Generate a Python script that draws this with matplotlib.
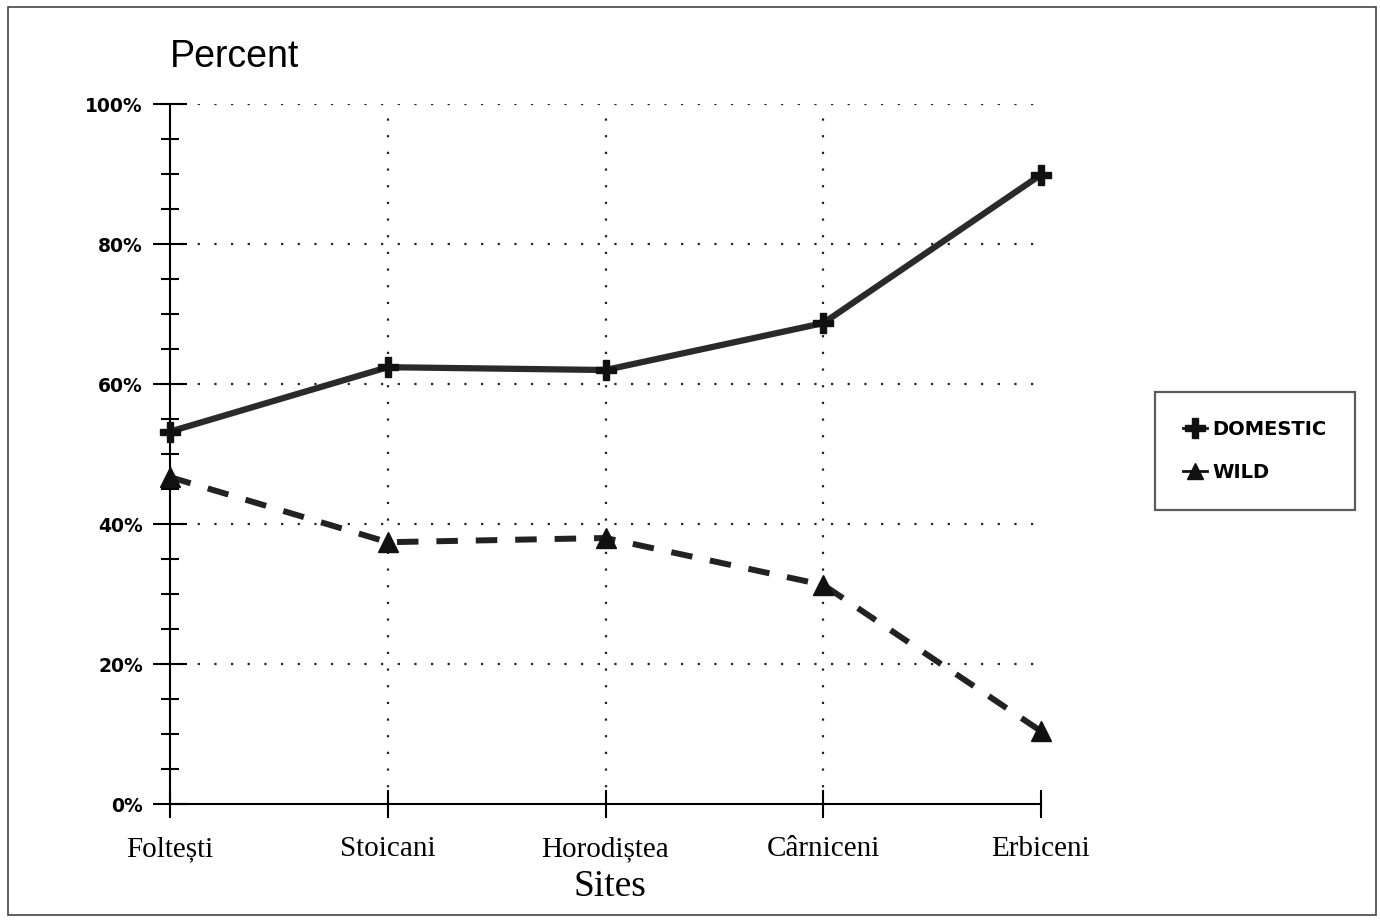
import matplotlib
matplotlib.use("Agg")
import matplotlib.pyplot as plt
from matplotlib.lines import Line2D
from matplotlib.patches import Rectangle

sites = ["Foltești", "Stoicani", "Horodiștea", "Cârniceni", "Erbiceni"]
domestic = [53.2, 62.4, 62.0, 68.7, 89.9]
wild = [46.7, 37.4, 38.0, 31.3, 10.4]
y_major = [0, 20, 40, 60, 80, 100]
y_labels = ["0%", "20%", "40%", "60%", "80%", "100%"]

W, H = 1380, 921
fig = plt.figure(figsize=(W / 100, H / 100), dpi=100)
fig.patch.set_facecolor("white")

# outer frame
fig.add_artist(Rectangle((8 / W, 6 / H), (1376 - 8) / W, (914 - 6) / H,
                         transform=fig.transFigure, fill=False,
                         edgecolor="#444444", linewidth=1.2))

ax = fig.add_axes([170 / W, 1 - 804 / H, (1041 - 170) / W, (804 - 104) / H])
x = list(range(len(sites)))
ax.set_xlim(0, len(sites) - 1)
ax.set_ylim(0, 100)
for s in ["top", "right"]:
    ax.spines[s].set_visible(False)
ax.spines["left"].set_linewidth(1.5)
ax.spines["bottom"].set_linewidth(1.5)

# grid
for yv in y_major[1:]:
    ax.plot([0.05, 3.98], [yv, yv], linestyle=(0, (1, 6.5)), color="#222222",
            linewidth=1.6, zorder=1)
for xv in x[1:-1]:
    ax.plot([xv, xv], [0, 100], linestyle=(0, (1, 6.5)), color="#222222",
            linewidth=1.6, zorder=1)

ax.set_yticks(y_major)
ax.set_yticklabels(y_labels, fontsize=13.5, fontweight="bold", family="DejaVu Sans")
ax.set_yticks(range(0, 101, 5), minor=True)
ax.tick_params(axis="y", which="major", direction="inout", length=25, width=1.5, pad=7)
ax.tick_params(axis="y", which="minor", direction="inout", length=13, width=1.5)
ax.set_xticks(x)
ax.set_xticklabels(sites, fontsize=21, family="Liberation Serif")
ax.tick_params(axis="x", direction="inout", length=20, width=1.5, pad=13)

ax.plot(x, domestic, color="#2a2a2a", linewidth=4.5, marker="P", markersize=15,
        markeredgecolor="#111111", markerfacecolor="#111111", zorder=3, clip_on=False)
ax.plot(x, wild, color="#222222", linewidth=4.3, linestyle=(0, (3.6, 3.0)), marker="^",
        markersize=14, markeredgecolor="#111111", markerfacecolor="#111111",
        zorder=3, clip_on=False)

fig.text(170 / W, 1 - 57 / H, "Percent", fontsize=27, family="Liberation Sans",
         ha="left", va="center")
fig.text(610 / W, 1 - 887 / H, "Sites", fontsize=27, family="Liberation Serif",
         ha="center", va="center")

handles = [
    Line2D([], [], color="#111111", linewidth=2, marker="P", markersize=14,
           markerfacecolor="#111111", markeredgecolor="#111111"),
    Line2D([], [], color="#111111", linewidth=2, marker="^", markersize=12,
           markerfacecolor="#111111", markeredgecolor="#111111"),
]
leg = fig.legend(handles, ["DOMESTIC", "WILD"], loc="upper left",
                 bbox_to_anchor=(1155 / W, 1 - 392 / H), frameon=True, fancybox=False,
                 prop={"family": "DejaVu Sans", "weight": "bold", "size": 14},
                 handlelength=1.2, handletextpad=0.3, borderpad=1.45, labelspacing=1.2,
                 borderaxespad=0)
leg.get_frame().set_edgecolor("#333333")
leg.get_frame().set_linewidth(1.6)

fig.savefig("out.png", dpi=100, facecolor="white")
